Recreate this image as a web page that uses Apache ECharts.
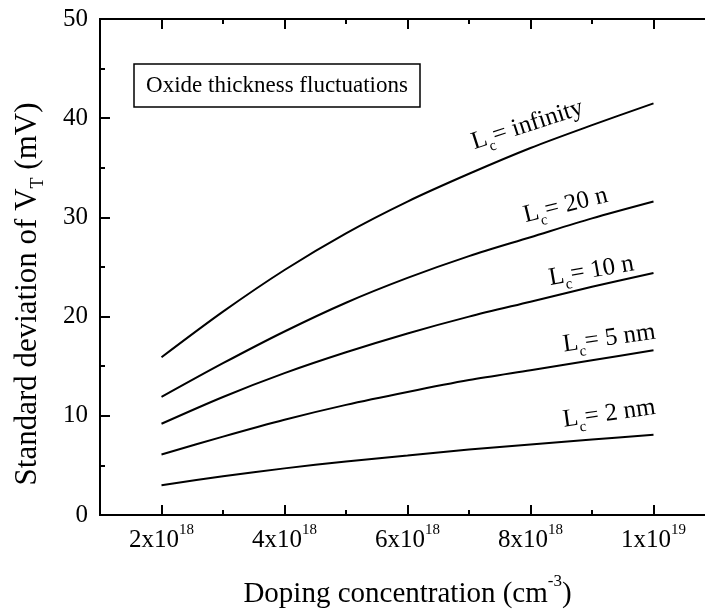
<!DOCTYPE html>
<html><head><meta charset="utf-8">
<script src="https://cdn.jsdelivr.net/npm/echarts@6/dist/echarts.min.js"></script>
<style>html,body{margin:0;padding:0;background:#fff}#c{width:705px;height:615px}</style>
</head><body><div id="c"></div>
<script>
const doping = [2,3,4,5,6,7,8,9,10];
const sigmaInfinity = [15.9,20.5,24.7,28.4,31.6,34.4,37.0,39.3,41.5];
const sigma20 = [11.9,15.3,18.5,21.4,23.9,26.1,28.0,29.9,31.6];
const sigma10 = [9.2,11.9,14.3,16.4,18.3,20.0,21.5,23.0,24.4];
const sigma5 = [6.1,7.9,9.6,11.1,12.4,13.6,14.6,15.6,16.6];
const sigma2 = [3.0,3.9,4.7,5.4,6.0,6.6,7.1,7.6,8.1];
const curveLabels = ['= infinity','= 20 n','= 10 n','= 5 nm','= 2 nm'];
const xMajorTicks = [2,4,6,8,10];
const xMinorTicks = [3,5,7,9];
const xTickMantissa = ['2x10','4x10','6x10','8x10','1x10'];
const xTickExponent = ['18','18','18','18','19'];

// annotation anchors in data units and their angles
const labelAnchors = [[7.95,39.3],[8.57,31.2],[8.99,24.6],[9.28,17.8],[9.28,10.2]];
const labelAngles = [18,14,10,8,8];

const F = '"Liberation Serif","Times New Roman",serif';
const curves = [sigmaInfinity, sigma20, sigma10, sigma5, sigma2];

const chart = echarts.init(document.getElementById('c'), null, {renderer:'canvas'});
const axisLine = {show:true, lineStyle:{color:'#000', width:2}};
function xAx(pos, ticks, len, labels){
  return {
    type:'value', gridIndex:0, position:pos, min:1, max:11,
    axisLine: axisLine,
    axisTick:{show:true, inside:true, length:len, customValues:ticks, lineStyle:{color:'#000', width:2}},
    axisLabel: labels ? {
      show:true, customValues:ticks, margin:8, color:'#000',
      formatter: v => { const i = xMajorTicks.indexOf(v); return '{m|' + xTickMantissa[i] + '}{e|' + xTickExponent[i] + '}'; },
      rich:{
        m:{fontFamily:F, fontSize:25, color:'#000', lineHeight:30, verticalAlign:'bottom'},
        e:{fontFamily:F, fontSize:15, color:'#000', lineHeight:30, verticalAlign:'top'}
      }
    } : {show:false},
    splitLine:{show:false}
  };
}
const xAxes = [xAx('bottom', xMajorTicks, 10, true), xAx('bottom', xMinorTicks, 5, false),
               xAx('top', xMajorTicks, 10, false), xAx('top', xMinorTicks, 5, false)];
xAxes[0].name = '{m|Doping concentration (cm}{e|-3}{m|)}';
xAxes[0].nameLocation = 'middle';
xAxes[0].nameGap = 58;
xAxes[0].nameTextStyle = {rich:{
  m:{fontFamily:F, fontSize:29, color:'#000', lineHeight:36, verticalAlign:'bottom'},
  e:{fontFamily:F, fontSize:17, color:'#000', lineHeight:36, verticalAlign:'top'}
}};
function yAx(pos, labels){
  return {
    type:'value', gridIndex:0, position:pos, min:0, max:50, interval:10,
    axisLine: axisLine,
    axisTick:{show:true, inside:true, length:10, lineStyle:{color:'#000', width:2}},
    minorTick:{show:true, splitNumber:2, length:5, lineStyle:{color:'#000', width:2}},
    axisLabel: labels ? {show:true, fontFamily:F, fontSize:25, color:'#000', margin:12} : {show:false},
    splitLine:{show:false}, minorSplitLine:{show:false}
  };
}
const series = curves.map((c, k) => ({
  type:'line', xAxisIndex:0, yAxisIndex:0,
  data: doping.map((x, i) => [x, c[i]]),
  showSymbol:false, symbol:'none', smooth:0.3,
  lineStyle:{color:'#000', width:2},
  silent:true,
  markPoint:{
    symbol:'circle', symbolSize:0, silent:true,
    data:[{coord:labelAnchors[k], value:0}],
    label:{
      show:true, position:'inside', rotate:labelAngles[k],
      formatter:'{l|L}{s|c}{l|' + curveLabels[k] + '}',
      rich:{
        l:{fontFamily:F, fontSize:25, color:'#000', lineHeight:34, verticalAlign:'middle'},
        s:{fontFamily:F, fontSize:15, color:'#000', lineHeight:34, verticalAlign:'bottom'}
      }
    }
  }
}));
chart.setOption({
  animation:false,
  backgroundColor:'#fff',
  grid:{left:100, top:19, width:615, height:496, containLabel:false, outerBoundsMode:'none'},
  xAxis: xAxes,
  yAxis: [yAx('left', true), yAx('right', false)],
  series: series,
  graphic:[
    {type:'text', x:28, y:294, rotation:Math.PI/2,
     style:{text:'{m|Standard deviation of V}{s|T}{m| (mV)}', align:'center', verticalAlign:'middle',
       rich:{
         m:{fontFamily:F, fontSize:31, fill:'#000', lineHeight:38, verticalAlign:'middle'},
         s:{fontFamily:F, fontSize:18, fill:'#000', lineHeight:38, verticalAlign:'bottom'}
       }}},
    {type:'rect', shape:{x:134, y:64, width:286, height:43}, style:{fill:'#fff', stroke:'#000', lineWidth:1.5}},
    {type:'text', x:277, y:86, style:{text:'Oxide thickness fluctuations', font:'23px ' + F, fill:'#000', align:'center', verticalAlign:'middle'}}
  ]
});
</script></body></html>
